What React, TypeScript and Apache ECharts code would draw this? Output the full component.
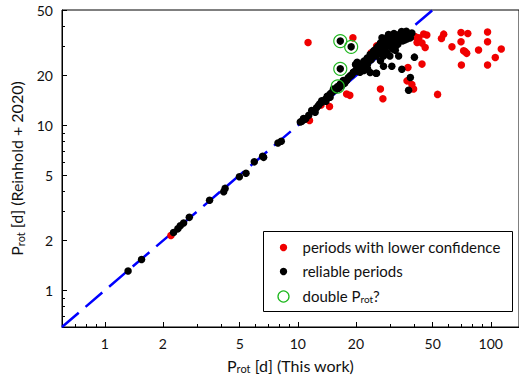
import React, { useEffect, useRef } from "react";
import * as echarts from "echarts";

// ---- tick values ----
const xMajorTicks = [1, 2, 5, 10, 20, 50, 100];
const xMinorTicks = [0.7, 0.8, 0.9, 3, 4, 6, 7, 8, 9, 30, 40, 60, 70, 80, 90];
const yMajorTicks = [1, 2, 5, 10, 20, 50];
const yMinorTicks = [0.7, 0.8, 0.9, 3, 4, 6, 7, 8, 9, 30, 40];

// ---- one-to-one reference line ----
const oneToOne = [[0.6, 0.6], [50, 50]];

// ---- periods with lower confidence (This work, Reinhold+2020) ----
const lowConfidence = [
  [2.2, 2.15], [11.5, 10.7], [11.3, 31.8], [14.6, 13.0], [17.9, 15.5], [18.6, 15.2],
  [19.3, 33.9], [22.6, 24.6], [22.9, 25.0], [25.6, 30.3], [26.8, 16.6], [27.6, 14.5],
  [30.0, 35.0], [30.2, 34.8], [36.8, 18.6], [37.2, 22.4], [39.0, 17.7], [39.8, 16.6],
  [44.0, 23.5], [42.4, 33.9], [44.0, 31.5], [41.5, 31.8], [45.7, 29.6], [44.9, 35.8],
  [46.6, 35.3], [53.0, 15.4], [55.5, 33.6], [57.0, 35.7], [62.9, 29.9], [70.1, 36.5],
  [76.0, 36.0], [96.2, 36.8], [70.1, 32.1], [96.2, 32.1], [72.3, 28.3], [75.0, 27.3],
  [73.5, 28.0], [86.4, 28.6], [113.3, 29.0], [105.5, 25.8], [70.4, 23.2], [96.2, 23.2],
  [20.5, 22.0], [24.0, 27.5], [13.2, 13.3], [40.5, 34.5],
];

// ---- reliable periods ----
const reliable = [
  [1.32, 1.31], [1.55, 1.54], [2.27, 2.24], [2.39, 2.36], [2.46, 2.46], [2.56, 2.56],
  [2.74, 2.77], [3.49, 3.52], [4.13, 3.96], [4.2, 4.15], [4.98, 4.88], [5.39, 5.12],
  [5.95, 6.01], [6.57, 6.5], [6.65, 6.4], [7.89, 7.82], [8.21, 8.01], [10.3, 10.47],
  [10.5, 10.6], [10.7, 11.0], [10.9, 10.9], [11.4, 11.5], [11.8, 12.3], [12.1, 12.3],
  [12.8, 13.2], [13.3, 13.8], [13.3, 14.1], [13.9, 14.4], [14.7, 14.8], [14.7, 15.5],
  [15.3, 16.6], [15.6, 16.3], [16.6, 17.8], [16.9, 17.4], [17.2, 18.7], [17.9, 18.7],
  [18.3, 19.5], [18.7, 20.0], [19.4, 21.0], [19.9, 21.4], [20.2, 21.9], [21.0, 21.0],
  [21.5, 23.5], [21.9, 22.4], [20.3, 24.1], [19.9, 23.4], [19.4, 20.9], [20.6, 21.3],
  [21.5, 22.8], [21.9, 23.9], [22.9, 25.6], [23.7, 26.9], [24.7, 28.2], [25.7, 29.4],
  [26.8, 28.3], [26.8, 31.5], [27.3, 33.9], [28.4, 31.5], [29.5, 32.4], [30.7, 33.9],
  [31.9, 34.7], [33.8, 34.7], [35.4, 35.6], [39.0, 36.3], [38.3, 33.9], [32.7, 32.5],
  [30.7, 31.0], [34.0, 34.0], [36.5, 34.5], [30.0, 26.3], [27.8, 26.3], [26.8, 24.6],
  [27.8, 22.8], [30.7, 22.8], [33.3, 26.3], [23.7, 20.9], [25.4, 20.7], [25.6, 20.7],
  [34.6, 21.9], [38.3, 19.5], [37.5, 16.3], [40.2, 25.9], [25.3, 26.3], [23.7, 25.8],
  [22.6, 24.0], [36.0, 33.0], [37.0, 35.0], [32.0, 30.0], [29.0, 30.0], [35.0, 32.5],
  [24.0, 27.0], [25.0, 28.5], [26.0, 30.0], [27.0, 30.5], [28.0, 33.0], [29.0, 34.0],
  [30.0, 32.0], [31.0, 33.0], [32.0, 35.0], [33.0, 33.5], [34.0, 36.0], [35.0, 34.0],
  [36.0, 36.0], [37.0, 33.5], [38.0, 35.5], [33.0, 31.0], [31.0, 29.0], [28.0, 28.0],
  [27.0, 29.0], [29.0, 27.5], [32.0, 28.5], [22.0, 24.5], [23.0, 23.5], [20.5, 22.5],
  [21.0, 22.0], [18.0, 19.0], [17.5, 18.0], [15.0, 15.8], [14.2, 15.0], [12.5, 12.8],
  [11.0, 11.0], [13.0, 13.5], [16.0, 17.0], [24.0, 25.0], [26.0, 27.0], [23.0, 22.0],
  [22.0, 21.5], [16.3, 16.8], [14.0, 14.0], [12.3, 12.0], [19.0, 20.2], [25.0, 26.8],
  [29.5, 35.5], [31.5, 36.0], [34.5, 37.0], [27.5, 32.0], [30.5, 30.0], [36.5, 37.2],
  [16.6, 32.4], [18.9, 29.9], [16.6, 22.0], [16.1, 17.2],
];

// ---- possible double periods (circled) ----
const doublePeriod = [[16.6, 32.4], [18.9, 29.9], [16.6, 22.0], [16.1, 17.2]];

const FONT = "Lato";
const TXT = "#111";

export default function App() {
  const ref = useRef<HTMLDivElement>(null);

  useEffect(() => {
    if (!ref.current) return;
    const chart = echarts.init(ref.current, undefined, { renderer: "svg" });

    const baseAxis = (min: number, max: number) => ({
      type: "log" as const,
      logBase: 10,
      min,
      max,
      splitLine: { show: false },
      minorSplitLine: { show: false },
    });

    const nameRich = {
      m: { fontSize: 16, fontFamily: FONT, color: TXT },
      s: { fontSize: 11, fontFamily: FONT, color: TXT, verticalAlign: "bottom", padding: [7, 0, 0, 0] },
    };

    const option: any = {
      animation: false,
      backgroundColor: "#ffffff",
      textStyle: { fontFamily: FONT },
      grid: {
        left: 62,
        top: 10,
        right: 0,
        bottom: 52,
        show: true,
        borderColor: "#000",
        borderWidth: 1,
        containLabel: false,
      },
      xAxis: [
        {
          ...baseAxis(0.6, 140),
          position: "bottom",
          axisLine: { show: true, lineStyle: { color: "#000", width: 1 } },
          axisTick: { show: true, inside: true, length: 5, customValues: xMajorTicks, lineStyle: { color: "#000" } },
          axisLabel: {
            show: true,
            customValues: xMajorTicks,
            formatter: (v: number) => String(v),
            color: TXT,
            fontSize: 14,
            fontFamily: FONT,
            margin: 9,
          },
          name: "{m|P}{s|rot}{m| [d] (This work)}",
          nameLocation: "middle",
          nameGap: 29,
          nameTextStyle: { rich: nameRich },
        },
        {
          ...baseAxis(0.6, 140),
          position: "bottom",
          axisLine: { show: false },
          axisTick: { show: true, inside: true, length: 3, customValues: xMinorTicks, lineStyle: { color: "#000" } },
          axisLabel: { show: false },
        },
      ],
      yAxis: [
        {
          ...baseAxis(0.6, 50),
          position: "left",
          axisLine: { show: true, lineStyle: { color: "#000", width: 1 } },
          axisTick: { show: true, inside: true, length: 5, customValues: yMajorTicks, lineStyle: { color: "#000" } },
          axisLabel: {
            show: true,
            customValues: yMajorTicks,
            formatter: (v: number) => String(v),
            color: TXT,
            fontSize: 14,
            fontFamily: FONT,
            margin: 9,
          },
          name: "{m|P}{s|rot}{m| [d] (Reinhold + 2020)}",
          nameLocation: "middle",
          nameGap: 34,
          nameTextStyle: { rich: nameRich },
        },
        {
          ...baseAxis(0.6, 50),
          position: "left",
          axisLine: { show: false },
          axisTick: { show: true, inside: true, length: 3, customValues: yMinorTicks, lineStyle: { color: "#000" } },
          axisLabel: { show: false },
        },
      ],
      series: [
        {
          type: "line",
          data: oneToOne,
          xAxisIndex: 0,
          yAxisIndex: 0,
          symbol: "none",
          lineStyle: { color: "#0000ff", width: 2.5, type: [22, 9] },
          z: 1,
          silent: true,
        },
        {
          type: "scatter",
          name: "periods with lower confidence",
          data: lowConfidence,
          symbol: "circle",
          symbolSize: 7.5,
          itemStyle: { color: "#f00000", opacity: 1 },
          z: 2,
        },
        {
          type: "scatter",
          name: "reliable periods",
          data: reliable,
          symbol: "circle",
          symbolSize: 7.5,
          itemStyle: { color: "#000000", opacity: 1 },
          z: 3,
        },
        {
          type: "scatter",
          name: "double Prot?",
          data: doublePeriod,
          symbol: "circle",
          symbolSize: 13,
          itemStyle: { color: "rgba(0,0,0,0)", borderColor: "#22b822", borderWidth: 1.2, opacity: 1 },
          z: 4,
        },
      ],
      graphic: [
        {
          type: "group",
          left: 263,
          top: 231,
          z: 100,
          children: [
            { type: "rect", shape: { x: 0, y: 0, width: 249, height: 80 }, style: { fill: "#fff", stroke: "#000", lineWidth: 1 } },
            { type: "circle", shape: { cx: 20, cy: 16, r: 3.7 }, style: { fill: "#f00000" } },
            { type: "circle", shape: { cx: 20, cy: 40, r: 3.7 }, style: { fill: "#000" } },
            { type: "circle", shape: { cx: 20, cy: 65, r: 5.5 }, style: { fill: "none", stroke: "#1fb81f", lineWidth: 1.3 } },
            { type: "text", x: 39, y: 15, style: { text: "periods with lower confidence", font: `15px ${FONT}`, fill: TXT, verticalAlign: "middle" } },
            { type: "text", x: 39, y: 39, style: { text: "reliable periods", font: `15px ${FONT}`, fill: TXT, verticalAlign: "middle" } },
            {
              type: "text",
              x: 39,
              y: 64,
              style: {
                text: "{m|double P}{s|rot}{m|?}",
                verticalAlign: "middle",
                rich: {
                  m: { fontSize: 15, fontFamily: FONT, fill: TXT },
                  s: { fontSize: 10, fontFamily: FONT, fill: TXT, verticalAlign: "bottom", padding: [6, 0, 0, 0] },
                },
              },
            },
          ],
        },
      ],
    };

    chart.setOption(option);
    return () => chart.dispose();
  }, []);

  return (
    <div
      ref={ref}
      style={{ position: "fixed", left: 0, top: 0, width: 519, height: 379, background: "#fff" }}
    />
  );
}
